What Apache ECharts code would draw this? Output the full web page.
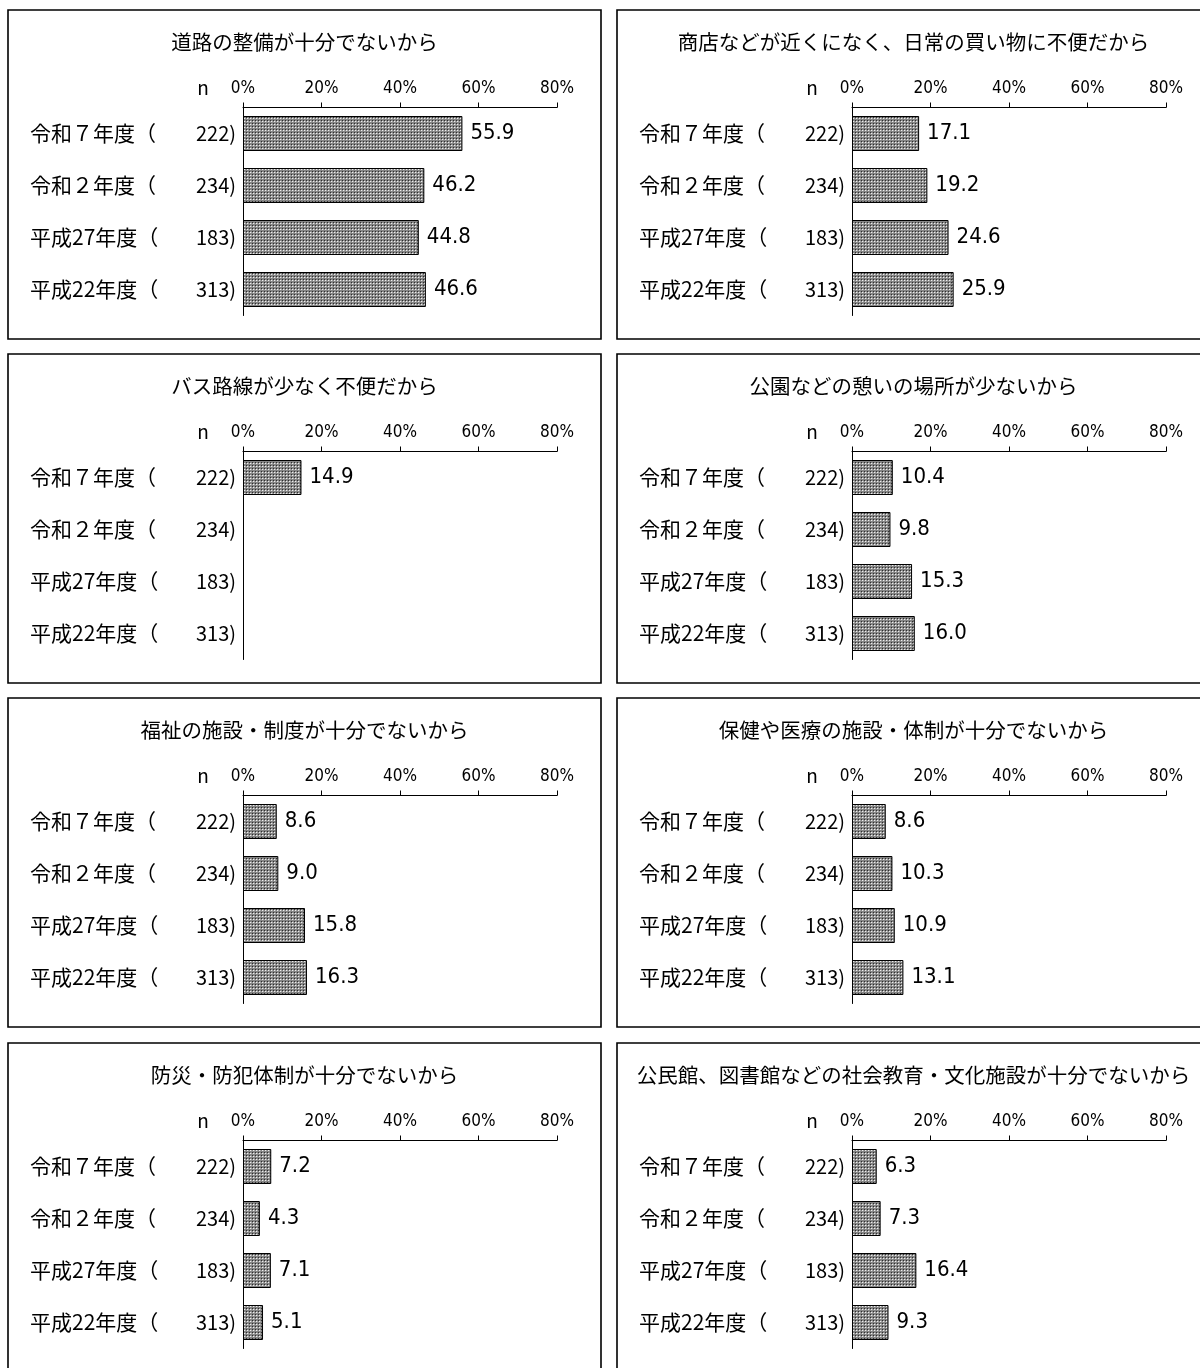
<!DOCTYPE html>
<html>
<head>
<meta charset="utf-8">
<script src="https://cdn.jsdelivr.net/npm/echarts@6/dist/echarts.min.js"></script>
<style>
html,body{margin:0;padding:0;background:#fff;}
#c{width:1200px;height:1368px;}
</style>
</head>
<body>
<div id="c"></div>
<script>
// ---- data ----
const years = ['令和７年度', '令和２年度', '平成27年度', '平成22年度'];
const ns = ['222', '234', '183', '313'];
const ticks = [0, 20, 40, 60, 80];
const titles = [
  '道路の整備が十分でないから',
  '商店などが近くになく、日常の買い物に不便だから',
  'バス路線が少なく不便だから',
  '公園などの憩いの場所が少ないから',
  '福祉の施設・制度が十分でないから',
  '保健や医療の施設・体制が十分でないから',
  '防災・防犯体制が十分でないから',
  '公民館、図書館などの社会教育・文化施設が十分でないから'
];
const roads = [55.9, 46.2, 44.8, 46.6];
const shops = [17.1, 19.2, 24.6, 25.9];
const buses = [14.9, null, null, null];
const parks = [10.4, 9.8, 15.3, 16.0];
const welfare = [8.6, 9.0, 15.8, 16.3];
const health = [8.6, 10.3, 10.9, 13.1];
const safety = [7.2, 4.3, 7.1, 5.1];
const culture = [6.3, 7.3, 16.4, 9.3];
const seriesValues = [roads, shops, buses, parks, welfare, health, safety, culture];

// ---- pattern ----
function makePattern() {
  const c = document.createElement('canvas');
  c.width = 3; c.height = 3;
  const g = c.getContext('2d');
  g.fillStyle = '#858585'; g.fillRect(0, 0, 3, 3);
  g.fillStyle = '#eeeeee'; g.fillRect(1, 1, 1, 1);
  g.fillStyle = '#2e2e2e'; g.fillRect(0, 0, 1, 1);
  g.fillStyle = '#a8a8a8'; g.fillRect(2, 1, 1, 1);
  return c;
}
const pattern = { image: makePattern(), repeat: 'repeat' };

const JP = '"Noto Sans CJK JP", "Noto Sans", sans-serif';
const NUM = '"Liberation Sans Narrow", "DejaVu Sans Condensed", sans-serif';

const rowTops = [10, 354, 698, 1043];
const colShift = 609;

const grids = [], xAxes = [], yAxes = [], series = [], graphics = [];

for (let i = 0; i < 8; i++) {
  const col = i % 2, row = Math.floor(i / 2);
  const ox = col * colShift, top = rowTops[row];

  graphics.push({
    type: 'rect', silent: true,
    shape: { x: 8 + ox, y: top, width: 593, height: 329 },
    style: { fill: 'none', stroke: '#000', lineWidth: 1.6 }
  });
  graphics.push({
    type: 'text', silent: true,
    x: 304.5 + ox, y: top + 32,
    style: { text: titles[i], fill: '#000', font: '20.5px ' + JP, align: 'center', verticalAlign: 'middle' }
  });
  graphics.push({
    type: 'text', silent: true,
    x: 203 + ox, y: top + 78,
    style: { text: 'n', fill: '#000', font: '19px ' + JP, align: 'center', verticalAlign: 'middle' }
  });

  grids.push({ left: 243 + ox, top: top + 97.5, width: 314, height: 208, containLabel: false });
  xAxes.push({
    gridIndex: i, type: 'value', position: 'top',
    min: ticks[0], max: ticks[ticks.length - 1], interval: ticks[1] - ticks[0],
    axisLine: { show: true, lineStyle: { color: '#000', width: 1 } },
    axisTick: { show: true, length: 5, lineStyle: { color: '#000', width: 1 } },
    splitLine: { show: false },
    axisLabel: { margin: 10, color: '#000', fontSize: 17, fontFamily: NUM, formatter: '{value}%' }
  });
  yAxes.push({
    gridIndex: i, type: 'category', inverse: true, data: years,
    axisLine: { show: true, lineStyle: { color: '#000', width: 1 } },
    axisTick: { show: false },
    splitLine: { show: false },
    axisLabel: {
      margin: 7, color: '#000',
      formatter: (v, idx) => '{a|' + v + '（}{b|' + ns[idx] + ')}',
      rich: {
        a: { width: 142, align: 'left', fontSize: 21, fontFamily: JP, color: '#000' },
        b: { width: 64, align: 'right', fontSize: 20, fontFamily: JP, color: '#000' }
      }
    }
  });
  series.push({
    type: 'bar', xAxisIndex: i, yAxisIndex: i,
    data: seriesValues[i],
    barWidth: 35,
    itemStyle: { color: pattern, borderColor: '#000', borderWidth: 1 },
    label: {
      show: true, position: 'right', distance: 8,
      color: '#000', fontSize: 22, fontFamily: NUM,
      formatter: p => (p.value == null ? '' : Number(p.value).toFixed(1))
    },
    silent: true, animation: false
  });
}

const chart = echarts.init(document.getElementById('c'), null, { renderer: 'canvas' });
chart.setOption({
  backgroundColor: '#fff',
  animation: false,
  grid: grids, xAxis: xAxes, yAxis: yAxes, series: series,
  graphic: graphics
});
</script>
</body>
</html>
